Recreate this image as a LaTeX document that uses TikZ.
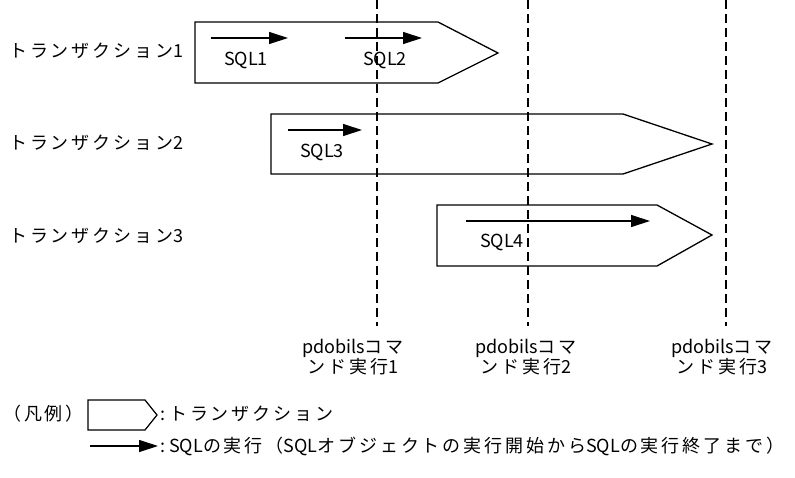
\documentclass[tikz,border=0pt]{standalone}
\usepackage{fontspec}
\setmainfont{Noto Sans CJK JP}
\newfontfamily\jpsp[LetterSpace=16]{Noto Sans CJK JP}
\usetikzlibrary{arrows.meta}
\begin{document}
\begin{tikzpicture}[x=1pt,y=-1pt,
  txt/.style={font=\fontsize{18}{20}\selectfont, inner sep=0pt},
  pent/.style={draw, line width=1.3pt, fill=white},
  sqlarrow/.style={line width=1.2pt, -{Triangle[length=19pt,width=12pt]}},
  cmdline/.style={line width=1.2pt, dash pattern=on 9pt off 5pt}]
\useasboundingbox (0,0) rectangle (795,477);
% transactions
\draw[pent] (195,22) -- (438,22) -- (498,53) -- (438,83) -- (195,83) -- cycle;
\draw[pent] (271,114) -- (623,114) -- (712,144) -- (623,174) -- (271,174) -- cycle;
\draw[pent] (437,205) -- (657,205) -- (712,235) -- (657,266) -- (437,266) -- cycle;
% command lines
\coordinate (c1t) at (377,0); \coordinate (c1b) at (377,326);
\coordinate (c2t) at (528,0); \coordinate (c2b) at (528,326);
\coordinate (c3t) at (726,0); \coordinate (c3b) at (726,326);
\draw[cmdline] (c1t) -- (c1b);
\draw[cmdline] (c2t) -- (c2b);
\draw[cmdline] (c3t) -- (c3b);
% SQL arrows
\coordinate (s1a) at (211,38); \coordinate (s1b) at (288,38);
\coordinate (s2a) at (345,38); \coordinate (s2b) at (422,38);
\coordinate (s3a) at (288,130); \coordinate (s3b) at (362,130);
\coordinate (s4a) at (466,221); \coordinate (s4b) at (650,221);
\draw[sqlarrow] (s1a) -- (s1b);
\draw[sqlarrow] (s2a) -- (s2b);
\draw[sqlarrow] (s3a) -- (s3b);
\draw[sqlarrow] (s4a) -- (s4b);
\node[txt] (q1) at (246,60) {SQL1};
\node[txt] (q2) at (385,60) {SQL2};
\node[txt] (q3) at (322,152) {SQL3};
\node[txt] (q4) at (502,242) {SQL4};
% transaction labels
\node[txt, anchor=west] (t1) at (9,51) {{\jpsp トランザクション}1};
\node[txt, anchor=west] (t2) at (9,143) {{\jpsp トランザクション}2};
\node[txt, anchor=west] (t3) at (9,236) {{\jpsp トランザクション}3};
% command labels
\node[txt, align=center] (l1) at (353,357) {pdobils{\jpsp コマ}\\{\jpsp ンド実行}1};
\node[txt, align=center] (l2) at (526,357) {pdobils{\jpsp コマ}\\{\jpsp ンド実行}2};
\node[txt, align=center] (l3) at (722,357) {pdobils{\jpsp コマ}\\{\jpsp ンド実行}3};
% legend
\node[txt, anchor=west] (lg) at (3,414) {{\jpsp （凡例）}};
\draw[pent, line width=1.2pt] (88,400) -- (145,400) -- (157,415) -- (145,430) -- (88,430) -- cycle;
\node[txt, anchor=west] (lgt) at (160,414) {:\ {\jpsp トランザクション}};
\coordinate (la) at (90,446); \coordinate (lb) at (158,446);
\draw[sqlarrow] (la) -- (lb);
\node[txt, anchor=west] (lgs) at (160,446) {:\ SQL{\jpsp の実行（}SQL{\jpsp オブジェクトの実行開始から}SQL{\jpsp の実行終了まで）}};
\end{tikzpicture}
\end{document}
